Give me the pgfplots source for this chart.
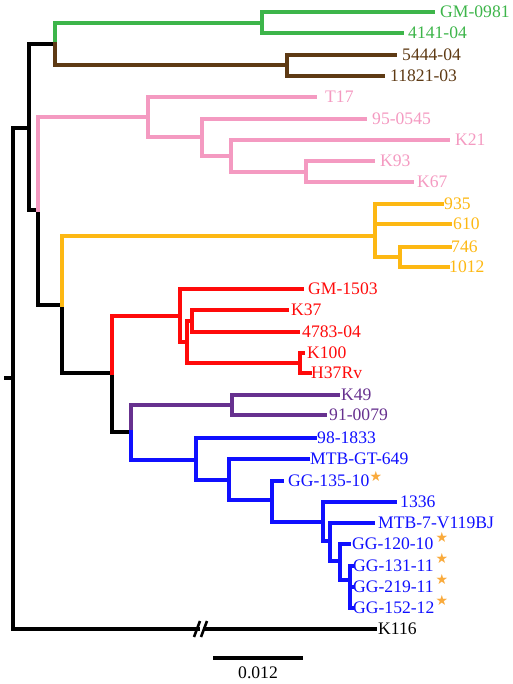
\documentclass[border=0pt]{standalone}
\usepackage{fontspec}
\setmainfont{Liberation Serif}
\newfontfamily\symfont{DejaVu Sans}
\usepackage{pgfplots}
\pgfplotsset{compat=1.18}
\definecolor{cgreen}{HTML}{3DB54A}
\definecolor{cbrown}{HTML}{5E3A14}
\definecolor{cpink}{HTML}{F49AC1}
\definecolor{corange}{HTML}{FDB813}
\definecolor{cred}{HTML}{FF0A0A}
\definecolor{cpurple}{HTML}{67318F}
\definecolor{cblue}{HTML}{1010FF}
\definecolor{cstar}{HTML}{F9AA3C}
\tikzset{lab/.style={anchor=west, inner sep=0pt, font=\fontsize{17.6}{19}\selectfont}}
\begin{document}
\begin{tikzpicture}
\useasboundingbox (0,0) rectangle (513pt,684pt);
\begin{axis}[
  at={(0,0)}, anchor=south west,
  scale only axis, width=513pt, height=684pt,
  xmin=0, xmax=513, ymin=0, ymax=684, y dir=reverse,
  hide axis, clip=false,
  every axis plot/.append style={line width=4pt, line join=miter, line cap=rect, mark=none},
]
% black backbone
\addplot[black] coordinates {(55,44)(29,44)(29,210)(38,210)(38,305)(62,305)(62,373)(112,373)(112,432)(131,432)};
\addplot[black] coordinates {(29,128)(13,128)(13,629)(198,629)};
\addplot[black] coordinates {(205,629)(375,629)};
\addplot[black, line width=2.6pt, line cap=butt] coordinates {(194,637)(200,621)};
\addplot[black, line width=2.6pt, line cap=butt] coordinates {(201,637)(207,621)};
\addplot[black] coordinates {(6,378)(13,378)};
% green
\addplot[cgreen] coordinates {(433,12)(262,12)(262,33)(402,33)};
\addplot[cgreen] coordinates {(262,23)(55,23)(55,44)};
% brown
\addplot[cbrown] coordinates {(395,55)(287,55)(287,76)(383,76)};
\addplot[cbrown] coordinates {(287,65)(55,65)(55,44)};
% pink
\addplot[cpink] coordinates {(38,210)(38,117)(148,117)};
\addplot[cpink] coordinates {(315,97)(148,97)(148,137)(202,137)};
\addplot[cpink] coordinates {(365,119)(202,119)(202,156)(231,156)};
\addplot[cpink] coordinates {(448,140)(231,140)(231,172)(306,172)};
\addplot[cpink] coordinates {(373,161)(306,161)(306,182)(412,182)};
% orange
\addplot[corange] coordinates {(62,305)(62,236)(375,236)};
\addplot[corange] coordinates {(442,204)(375,204)(375,257)(400,257)};
\addplot[corange] coordinates {(375,224)(450,224)};
\addplot[corange] coordinates {(450,247)(400,247)(400,267)(448,267)};
% red
\addplot[cred] coordinates {(112,373)(112,316)(180,316)};
\addplot[cred] coordinates {(302,289)(180,289)(180,342)(187,342)};
\addplot[cred] coordinates {(192,321)(187,321)(187,363)(300,363)};
\addplot[cred] coordinates {(287,310)(192,310)(192,332)(298,332)};
\addplot[cred] coordinates {(303,353)(300,353)(300,373)(310,373)};
% purple
\addplot[cpurple] coordinates {(131,432)(131,405)(232,405)};
\addplot[cpurple] coordinates {(338,395)(232,395)(232,415)(325,415)};
% blue
\addplot[cblue] coordinates {(131,432)(131,460)(196,460)};
\addplot[cblue] coordinates {(315,438)(196,438)(196,480)(229,480)};
\addplot[cblue] coordinates {(308,459)(229,459)(229,500)(272,500)};
\addplot[cblue] coordinates {(282,481)(272,481)(272,522)(323,522)};
\addplot[cblue] coordinates {(395,502)(323,502)(323,541)(330,541)};
\addplot[cblue] coordinates {(373,523)(330,523)(330,561)(340,561)};
\addplot[cblue] coordinates {(349,544)(340,544)(340,580)(350,580)};
\addplot[cblue] coordinates {(352,566)(350,566)(350,608)(352,608)};
\addplot[cblue] coordinates {(350,587)(352,587)};
% scale bar
\addplot[black] coordinates {(215,658)(301,658)};
% stars
\addplot[only marks, mark=text, text mark={\textcolor{cstar}{\symfont\fontsize{14}{14}\selectfont ★}}]
  coordinates {(376,476)(442,537)(442,558)(442,579)(442,600)};
% labels
\node[lab, text=cgreen] at (axis cs:440,12) {GM-0981};
\node[lab, text=cgreen] at (axis cs:408,33) {4141-04};
\node[lab, text=cbrown] at (axis cs:402,55) {5444-04};
\node[lab, text=cbrown] at (axis cs:390,76) {11821-03};
\node[lab, text=cpink] at (axis cs:325,97) {T17};
\node[lab, text=cpink] at (axis cs:372,119) {95-0545};
\node[lab, text=cpink] at (axis cs:455,140) {K21};
\node[lab, text=cpink] at (axis cs:380,161) {K93};
\node[lab, text=cpink] at (axis cs:417,182) {K67};
\node[lab, text=corange] at (axis cs:444,204) {935};
\node[lab, text=corange] at (axis cs:453,224) {610};
\node[lab, text=corange] at (axis cs:451,247) {746};
\node[lab, text=corange] at (axis cs:449,267) {1012};
\node[lab, text=cred] at (axis cs:308,289) {GM-1503};
\node[lab, text=cred] at (axis cs:291,310) {K37};
\node[lab, text=cred] at (axis cs:302,332) {4783-04};
\node[lab, text=cred] at (axis cs:307,353) {K100};
\node[lab, text=cred] at (axis cs:311,373) {H37Rv};
\node[lab, text=cpurple] at (axis cs:341,395) {K49};
\node[lab, text=cpurple] at (axis cs:329,415) {91-0079};
\node[lab, text=cblue] at (axis cs:317,438) {98-1833};
\node[lab, text=cblue] at (axis cs:310,459) {MTB-GT-649};
\node[lab, text=cblue] at (axis cs:288,481) {GG-135-10};
\node[lab, text=cblue] at (axis cs:400,502) {1336};
\node[lab, text=cblue] at (axis cs:378,523) {MTB-7-V119BJ};
\node[lab, text=cblue] at (axis cs:352,544) {GG-120-10};
\node[lab, text=cblue] at (axis cs:353,566) {GG-131-11};
\node[lab, text=cblue] at (axis cs:353,587) {GG-219-11};
\node[lab, text=cblue] at (axis cs:353,608) {GG-152-12};
\node[lab, text=black] at (axis cs:378,629) {K116};
\node[anchor=center, inner sep=0pt, font=\fontsize{17.6}{19}\selectfont] at (axis cs:258,673) {0.012};
\end{axis}
\end{tikzpicture}
\end{document}
